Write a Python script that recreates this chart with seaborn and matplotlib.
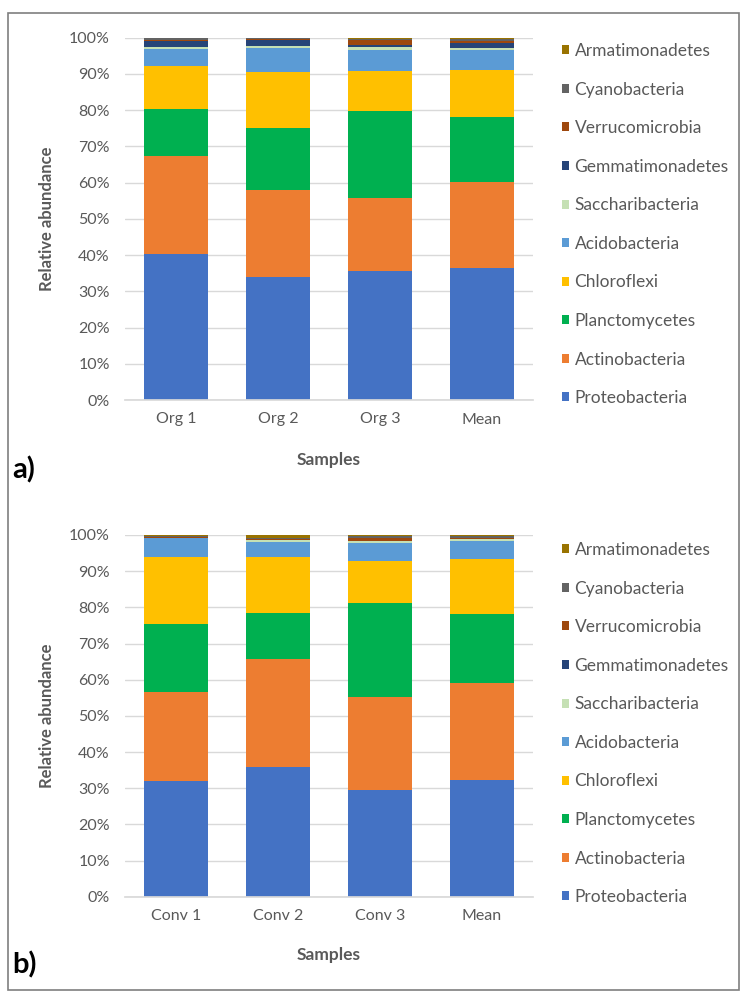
import numpy as np
import pandas as pd
import matplotlib
matplotlib.use("Agg")
import matplotlib.pyplot as plt
from matplotlib.patches import Rectangle
import seaborn as sns

# Phyla, bottom of the stack first
phyla = ["Proteobacteria", "Actinobacteria", "Planctomycetes", "Chloroflexi",
         "Acidobacteria", "Saccharibacteria", "Gemmatimonadetes",
         "Verrucomicrobia", "Cyanobacteria", "Armatimonadetes"]

colors = ["#4472C4", "#ED7D31", "#00B050", "#FFC000", "#5B9BD5",
          "#C5E0B4", "#264478", "#9E480E", "#636363", "#997300"]

# Organic samples (%), one list per sample in phylum order
org_samples = ["Org 1", "Org 2", "Org 3", "Mean"]
org1 = [40.2, 27.1, 12.9, 12.0, 4.7, 0.6, 1.5, 0.4, 0.4, 0.2]
org2 = [33.9, 24.2, 17.1, 15.4, 6.6, 0.5, 1.6, 0.3, 0.3, 0.1]
org3 = [35.6, 20.2, 24.1, 10.9, 5.8, 0.9, 0.4, 1.6, 0.2, 0.3]
org_mean = [36.4, 23.8, 18.0, 12.8, 5.6, 0.6, 1.2, 0.8, 0.5, 0.3]

# Conventional samples (%)
conv_samples = ["Conv 1", "Conv 2", "Conv 3", "Mean"]
conv1 = [32.1, 24.6, 18.6, 18.7, 5.1, 0.1, 0.1, 0.1, 0.4, 0.2]
conv2 = [35.9, 29.7, 12.7, 15.5, 4.2, 0.6, 0.1, 0.3, 0.3, 0.7]
conv3 = [29.4, 25.7, 26.2, 11.5, 5.1, 0.4, 0.1, 0.9, 0.5, 0.2]
conv_mean = [32.4, 26.6, 19.1, 15.4, 4.8, 0.5, 0.1, 0.4, 0.4, 0.3]

y_ticks = [0, 10, 20, 30, 40, 50, 60, 70, 80, 90, 100]
y_ticklabels = [f"{t}%" for t in y_ticks]

sns.set_theme(style="white")
plt.rcParams["font.family"] = ["Lato", "DejaVu Sans"]

TXT = "#595959"
W, H = 741, 992
fig = plt.figure(figsize=(W / 100, H / 100), dpi=100)


def fx(px):
    return px / W


def fy(py):
    return 1 - py / H


def stacked_panel(rect, samples, columns, legend_top):
    ax = fig.add_axes(rect)
    table = pd.DataFrame(np.array(columns).T, index=phyla, columns=samples)
    bottom = np.zeros(len(samples))
    for name, col in zip(phyla, colors):
        vals = table.loc[name].values
        df = pd.DataFrame({"sample": samples, "value": vals})
        sns.barplot(data=df, x="sample", y="value", order=samples, ax=ax,
                    color=col, width=0.63, bottom=bottom, label=name,
                    linewidth=0, saturation=1, errorbar=None)
        bottom = bottom + vals
    ax.set_ylim(0, 100)
    ax.set_xlim(-0.5, len(samples) - 0.5)
    ax.set_yticks(y_ticks)
    ax.set_yticklabels(y_ticklabels)
    ax.yaxis.grid(True, color="#D9D9D9", linewidth=1)
    ax.set_axisbelow(True)
    for s in ["top", "right", "left"]:
        ax.spines[s].set_visible(False)
    ax.spines["bottom"].set_color("#D9D9D9")
    ax.tick_params(axis="y", length=0, pad=11, labelsize=11.5, labelcolor=TXT)
    ax.tick_params(axis="x", length=0, pad=9, labelsize=11.5, labelcolor=TXT)
    ax.set_xlabel("")
    ax.set_ylabel("")
    handles, labels = ax.get_legend_handles_labels()
    ax.legend(handles[::-1], labels[::-1], loc="upper left",
              bbox_to_anchor=(fx(562), fy(legend_top)),
              bbox_transform=fig.transFigure, frameon=False,
              fontsize=12.5, labelcolor=TXT, handlelength=0.42,
              handleheight=0.42, handletextpad=0.3, labelspacing=1.30,
              borderpad=0, borderaxespad=0)
    return ax


ax_a = stacked_panel([fx(125), fy(400), fx(533 - 125), (400 - 37.7) / H],
                     org_samples, [org1, org2, org3, org_mean], 43)
ax_b = stacked_panel([fx(125), fy(896.7), fx(533 - 125), (896.7 - 535) / H],
                     conv_samples, [conv1, conv2, conv3, conv_mean], 542)

# Axis titles and panel letters
for ycen, xl_y, letter, ly in [(219, 460, "a)", 470), (716, 955, "b)", 965)]:
    fig.text(fx(47), fy(ycen), "Relative abundance", rotation=90,
             ha="center", va="center", fontsize=12, fontweight="bold",
             color=TXT)
    fig.text(fx(329), fy(xl_y), "Samples", ha="center", va="center",
             fontsize=12.5, fontweight="bold", color=TXT)
    fig.text(fx(12), fy(ly), letter, ha="left", va="center",
             fontsize=21, fontweight="bold", color="black")

# Outer frame
fig.patches.append(Rectangle((fx(8), fy(990)), fx(731), (990 - 13) / H,
                             transform=fig.transFigure, fill=False,
                             edgecolor="#7F7F7F", linewidth=1.2))

fig.savefig("out.png", dpi=100)
